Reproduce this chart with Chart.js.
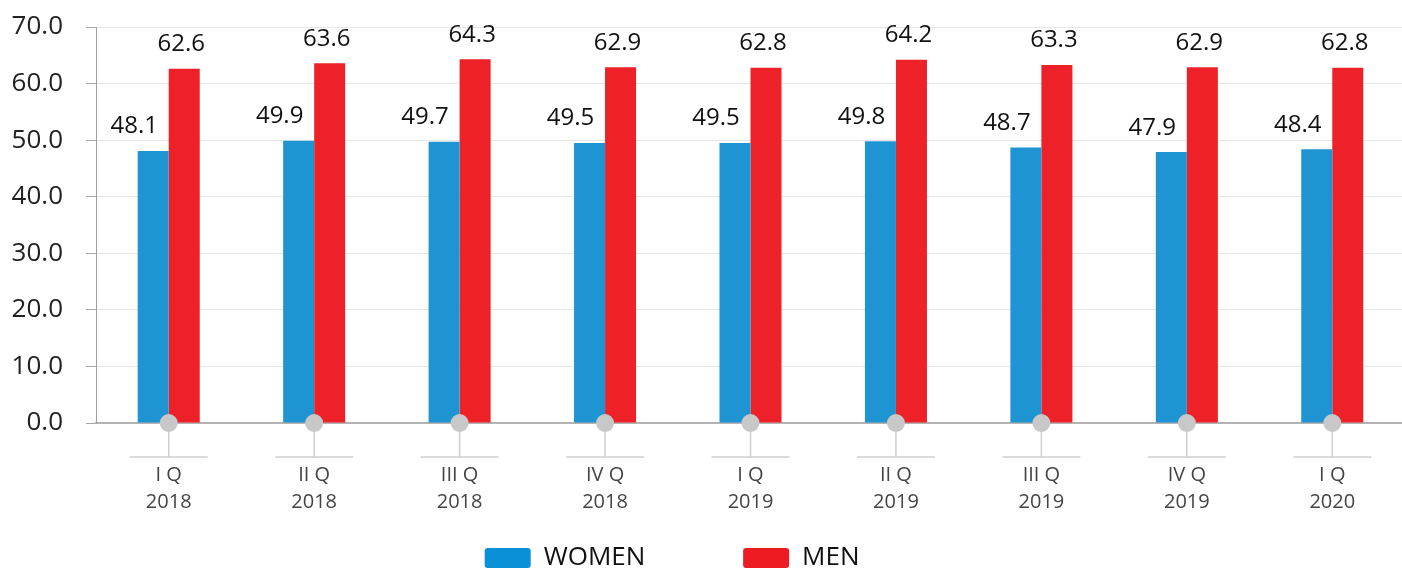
<!DOCTYPE html>
<html>
<head>
<meta charset="utf-8">
<script src="https://cdn.jsdelivr.net/npm/chart.js@4.4.1/dist/chart.umd.min.js"></script>
<style>
  html, body { margin: 0; padding: 0; background: #fff; overflow: hidden; }
  canvas { display: block; }
</style>
</head>
<body>
<canvas id="c" width="1405" height="581"></canvas>
<script>
const quarters = [["I Q","2018"],["II Q","2018"],["III Q","2018"],["IV Q","2018"],["I Q","2019"],["II Q","2019"],["III Q","2019"],["IV Q","2019"],["I Q","2020"]];
const women = [48.1, 49.9, 49.7, 49.5, 49.5, 49.8, 48.7, 47.9, 48.4];
const men = [62.6, 63.6, 64.3, 62.9, 62.8, 64.2, 63.3, 62.9, 62.8];
const seriesNames = ["WOMEN", "MEN"];
const barColors = ["#1f94d2", "#ed2127"];
const legendColors = ["#0a90d6", "#ed1c24"];
const yMin = 0, yMax = 70, yStep = 10;

const FONT = "'Open Sans', 'Noto Sans', sans-serif";

const decorPlugin = {
  id: 'decor',
  afterDatasetsDraw(chart) {
    const ctx = chart.ctx;
    const xs = chart.scales.x, ys = chart.scales.y;
    const base = ys.getPixelForValue(0);
    ctx.save();
    ctx.font = "24px " + FONT;
    ctx.fillStyle = "#111";
    ctx.textAlign = "center";
    ctx.textBaseline = "alphabetic";
    const offs = [-19, -3];
    chart.data.datasets.forEach((ds, di) => {
      const meta = chart.getDatasetMeta(di);
      meta.data.forEach((bar, i) => {
        ctx.fillText(ds.data[i].toFixed(1), bar.x + offs[di], bar.y - 17.5);
      });
    });
    quarters.forEach((q, i) => {
      const cx = xs.getPixelForValue(i);
      ctx.strokeStyle = "#cfcfcf";
      ctx.lineWidth = 1.5;
      ctx.beginPath();
      ctx.moveTo(cx, base);
      ctx.lineTo(cx, base + 34);
      ctx.moveTo(cx - 39, base + 34);
      ctx.lineTo(cx + 39, base + 34);
      ctx.stroke();
      ctx.fillStyle = "#c8c8c9";
      ctx.beginPath();
      ctx.arc(cx, base, 9, 0, Math.PI * 2);
      ctx.fill();
    });
    ctx.restore();
  }
};

const chart = new Chart(document.getElementById('c'), {
  type: 'bar',
  data: {
    labels: quarters,
    datasets: [
      { label: seriesNames[0], data: women, backgroundColor: barColors[0], borderWidth: 0 },
      { label: seriesNames[1], data: men, backgroundColor: barColors[1], borderWidth: 0 }
    ]
  },
  options: {
    responsive: false,
    animation: false,
    devicePixelRatio: 1,
    layout: { padding: { top: 27, left: 0, right: 0, bottom: 0 } },
    datasets: { bar: { categoryPercentage: 0.4265, barPercentage: 1 } },
    scales: {
      x: {
        grid: { display: false, drawTicks: false },
        border: { display: true, color: "#b3b3b3", width: 2 },
        ticks: {
          padding: 39,
          color: "#444",
          font: { family: FONT, size: 20, lineHeight: 1.35 },
          maxRotation: 0,
          autoSkip: false
        },
        afterFit(s) { s.height = 112; }
      },
      y: {
        min: yMin, max: yMax,
        ticks: {
          stepSize: yStep,
          padding: 23,
          color: "#222",
          font: { family: FONT, size: 26 },
          callback: v => Number(v).toFixed(1)
        },
        grid: { color: "#e6e6e6", tickColor: "#a8a8a8", tickLength: 10, lineWidth: 1 },
        border: { display: true, color: "#a0a0a0", width: 1 },
        afterFit(s) { s.width = 96; s.paddingTop = 0; s.paddingBottom = 0; }
      }
    },
    plugins: {
      tooltip: { enabled: false },
      legend: {
        display: true,
        position: 'bottom',
        labels: {
          boxWidth: 46,
          boxHeight: 20,
          padding: 10,
          color: "#111",
          font: { family: FONT, size: 26 },
          useBorderRadius: true,
          borderRadius: 3,
          generateLabels(ch) {
            const items = Chart.defaults.plugins.legend.labels.generateLabels(ch);
            const trail = [13, 9];
            items.forEach((it, i) => {
              it.fillStyle = legendColors[i];
              it.strokeStyle = legendColors[i];
              it.lineWidth = 0;
              it.text = it.text + " ".repeat(trail[i]);
            });
            return items;
          }
        }
      }
    }
  },
  plugins: [decorPlugin]
});
</script>
</body>
</html>
